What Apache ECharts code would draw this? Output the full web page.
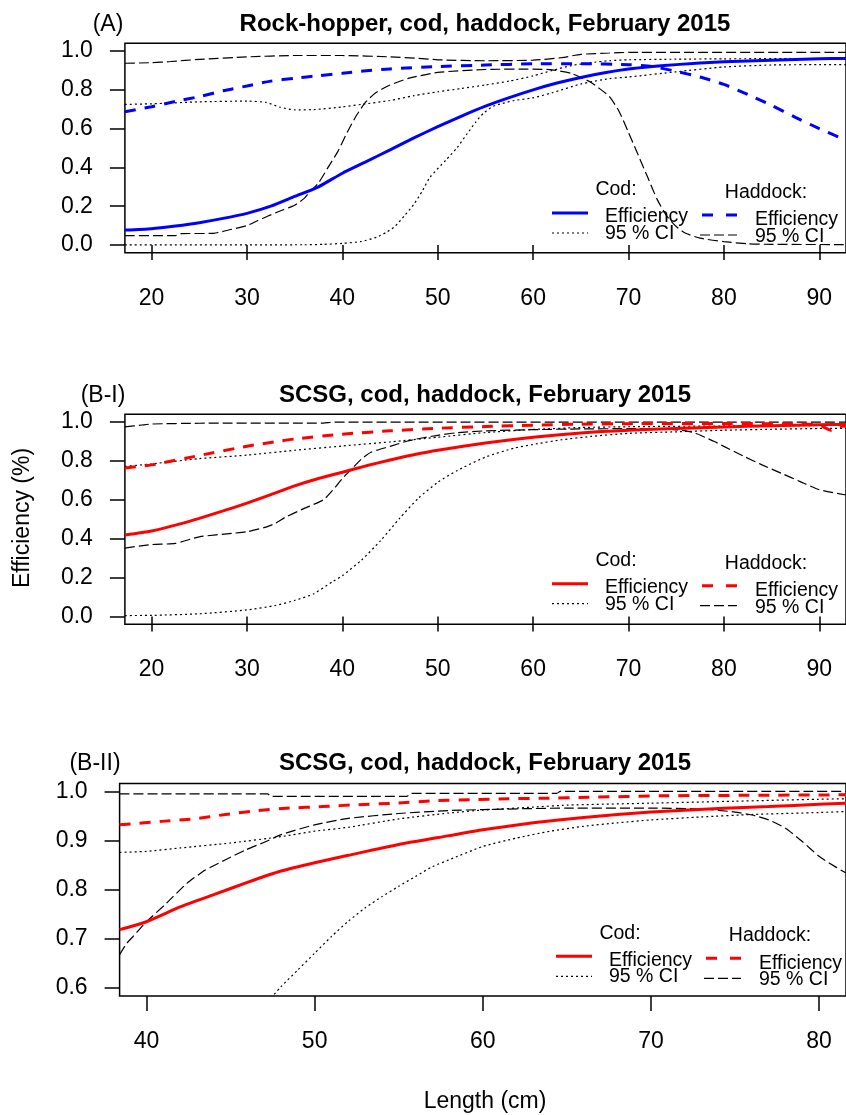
<!DOCTYPE html>
<html><head><meta charset="utf-8">
<script src="https://cdn.jsdelivr.net/npm/echarts@6/dist/echarts.min.js"></script>
<style>html,body{margin:0;padding:0;background:#fff}#c{width:846px;height:1115px}</style>
</head><body><div id="c"></div>
<script>
// ---------- DATA ----------
const titles = ['Rock-hopper, cod, haddock, February 2015', 'SCSG, cod, haddock, February 2015', 'SCSG, cod, haddock, February 2015'];
const panelTags = ['(A)', '(B-I)', '(B-II)'];
const xTicksAB = [20, 30, 40, 50, 60, 70, 80, 90];
const yTicksAB = [0, 0.2, 0.4, 0.6, 0.8, 1.0];
const xTicksC = [40, 50, 60, 70, 80];
const yTicksC = [0.6, 0.7, 0.8, 0.9, 1.0];

// Panel A: Rock-hopper (length cm, efficiency)
const codEffA = [[17.2,0.077],[20,0.084],[22.5,0.098],[25,0.115],[27.5,0.137],[30,0.163],[32.5,0.2],[35,0.25],[37.5,0.3],[40,0.37],[42.5,0.43],[45,0.49],[47.5,0.552],[50,0.61],[52.5,0.665],[55,0.716],[57.5,0.76],[60,0.8],[62.5,0.835],[65,0.864],[67.5,0.888],[70,0.907],[72.5,0.92],[75,0.93],[80,0.945],[85,0.953],[90,0.96],[92.8,0.962]];
const codLoA = [[17.2,0.0],[36,0.001],[38,0.003],[40,0.008],[42,0.018],[43.6,0.04],[44.6,0.065],[45.5,0.095],[46.5,0.15],[47.5,0.21],[48.4,0.28],[49.2,0.35],[50.9,0.44],[52,0.5],[53.1,0.575],[54,0.635],[54.8,0.68],[55.8,0.715],[56.8,0.73],[58,0.745],[59.9,0.758],[62,0.785],[65,0.83],[68,0.858],[70,0.866],[75,0.893],[80,0.918],[85,0.928],[90,0.93],[92.8,0.93]];
const codHiA = [[17.2,0.725],[20,0.728],[25,0.738],[30,0.742],[32,0.735],[33.5,0.71],[35,0.697],[37,0.698],[40,0.712],[42,0.725],[45,0.745],[47.5,0.77],[50,0.79],[52.5,0.807],[55,0.825],[57.5,0.845],[60,0.872],[62,0.9],[64,0.925],[66,0.94],[68,0.95],[70,0.955],[75,0.958],[80,0.96],[92.8,0.962]];
const hadEffA = [[17.2,0.687],[20,0.713],[22.5,0.74],[25,0.765],[27.5,0.795],[30,0.82],[32.5,0.845],[35,0.86],[37.5,0.873],[40,0.885],[42.5,0.898],[45,0.908],[50,0.92],[55,0.928],[60,0.934],[65,0.935],[70,0.93],[72.5,0.92],[75,0.895],[77.5,0.866],[80,0.828],[82.5,0.776],[85,0.72],[87.5,0.658],[90,0.6],[92.8,0.54]];
const hadLoA = [[17.2,0.048],[22.5,0.048],[23,0.058],[26.5,0.06],[28.4,0.081],[30,0.1],[31.1,0.125],[33.2,0.17],[35,0.205],[36,0.24],[36.5,0.27],[37.5,0.32],[38.5,0.4],[39.5,0.48],[40.5,0.58],[41.5,0.67],[42.5,0.74],[43.5,0.785],[45,0.825],[47,0.86],[50,0.89],[55,0.905],[60,0.907],[62,0.903],[64,0.885],[66,0.84],[67,0.805],[68,0.765],[69,0.69],[70,0.58],[71,0.465],[72,0.35],[73,0.235],[74,0.15],[75,0.095],[76,0.06],[77.5,0.035],[80,0.017],[82.5,0.006],[85,0.003],[92.8,0.002]];
const hadHiA = [[17.2,0.937],[20,0.94],[22,0.946],[25,0.957],[30,0.97],[35,0.977],[40,0.977],[45,0.97],[48,0.962],[50,0.955],[55,0.95],[60,0.953],[63,0.966],[65,0.983],[68,0.99],[70,0.993],[92.8,0.993]];

// Panel B-I: SCSG
const codEffB = [[17.2,0.419],[20,0.44],[22.5,0.47],[25,0.505],[27.5,0.543],[30,0.583],[32.5,0.627],[35,0.672],[37.5,0.71],[40,0.742],[42.5,0.775],[45,0.805],[47.5,0.832],[50,0.855],[55,0.892],[60,0.922],[65,0.944],[70,0.958],[75,0.967],[80,0.975],[85,0.981],[90,0.986],[92.8,0.988]];
const codLoB = [[17.2,0.005],[20,0.006],[25,0.014],[30,0.034],[33,0.057],[35,0.083],[37,0.117],[39,0.18],[40,0.21],[42,0.29],[44,0.39],[46,0.505],[48,0.61],[50,0.69],[52,0.75],[55,0.82],[58,0.866],[60,0.885],[63,0.909],[66,0.926],[70,0.942],[75,0.95],[80,0.958],[85,0.963],[90,0.967],[92.8,0.968]];
const codHiB = [[17.2,0.772],[20,0.785],[25,0.812],[30,0.83],[35,0.855],[40,0.877],[45,0.898],[50,0.922],[55,0.946],[60,0.962],[65,0.972],[70,0.976],[80,0.98],[92.8,0.983]];
const hadEffB = [[17.2,0.764],[20,0.78],[25,0.828],[30,0.876],[33.2,0.9],[35,0.913],[40,0.938],[45,0.955],[50,0.968],[55,0.977],[60,0.984],[65,0.989],[70,0.992],[80,0.993],[88,0.99],[90,0.985],[91.2,0.958],[92,0.975],[92.8,0.98]];
const hadLoB = [[17.2,0.352],[20,0.37],[22.5,0.376],[25,0.41],[28.5,0.428],[30,0.436],[32,0.46],[33,0.48],[34,0.51],[36,0.556],[38,0.6],[39,0.65],[40,0.71],[41,0.76],[42,0.81],[43,0.845],[45,0.875],[47,0.905],[50,0.932],[52,0.945],[55,0.955],[60,0.961],[65,0.965],[70,0.966],[74,0.965],[75,0.96],[76,0.955],[77,0.943],[78,0.922],[79,0.9],[80,0.875],[82,0.826],[84,0.78],[86,0.737],[88,0.694],[90,0.652],[92.8,0.625]];
const hadHiB = [[17.2,0.975],[19,0.985],[20,0.99],[25,0.994],[38,0.995],[39,1.0],[92.8,1.0]];

// Panel B-II: SCSG zoomed
const codEffC = [[38.4,0.719],[40,0.735],[42,0.765],[44,0.79],[46,0.815],[48,0.838],[50,0.855],[52,0.87],[55,0.892],[58,0.91],[60,0.922],[63,0.936],[66,0.947],[70,0.958],[74,0.965],[77,0.969],[80,0.974],[81.6,0.976]];
const codLoC = [[47.2,0.572],[48,0.603],[49,0.637],[50,0.671],[51,0.705],[52,0.736],[53,0.763],[54,0.786],[55,0.807],[56,0.827],[57,0.847],[58,0.861],[60,0.888],[62,0.905],[64,0.919],[66,0.929],[68,0.936],[70,0.942],[73,0.948],[76,0.953],[80,0.957],[81.6,0.959]];
const codHiC = [[38.4,0.876],[40,0.878],[42,0.885],[45,0.895],[48,0.908],[50,0.919],[52,0.927],[55,0.944],[58,0.956],[60,0.962],[63,0.968],[65,0.972],[70,0.976],[75,0.98],[80,0.984],[81.6,0.985]];
const hadEffC = [[38.4,0.932],[40.9,0.939],[42.8,0.944],[44.7,0.953],[46.6,0.961],[48.5,0.966],[50.4,0.969],[52.6,0.973],[54.8,0.976],[57.1,0.981],[59.3,0.983],[61.5,0.985],[63.7,0.986],[66.3,0.988],[70.7,0.991],[75.8,0.992],[81.6,0.993]];
const hadLoC = [[38.4,0.668],[38.8,0.69],[39.2,0.705],[40,0.735],[41.2,0.773],[42.4,0.813],[43.5,0.84],[44.7,0.861],[45.9,0.881],[47.1,0.898],[48,0.912],[50,0.932],[52,0.945],[55,0.955],[58,0.961],[60,0.963],[65,0.966],[70,0.966],[73,0.964],[75,0.958],[76,0.952],[77,0.942],[78,0.925],[79,0.898],[80,0.868],[81,0.846],[81.6,0.834]];
const hadHiC = [[38.4,0.995],[47.2,0.995],[47.4,0.99],[55.5,0.99],[55.7,0.996],[64.4,0.996],[64.6,1.0],[81.6,1.0]];

// ---------- LAYOUT / STYLE ----------
const FONT = '"Liberation Sans", Arial, sans-serif';
const BLUE = '#0000ff', RED = '#ff0000', INK = '#000';
const grids = [
  {left: 124.9, top: 43.3, width: 724.7, height: 209.4},
  {left: 124.9, top: 414.3, width: 724.7, height: 210},
  {left: 119.6, top: 783.5, width: 734.9, height: 212.5}
];
const xRanges = [[17.2, 92.8], [17.2, 92.8], [38.4, 81.6]];
const yRanges = [[-0.04, 1.04], [-0.04, 1.04], [0.584, 1.016]];
const xTickSets = [xTicksAB, xTicksAB, xTicksC];
const yTickSets = [yTicksAB, yTicksAB, yTicksC];
const panelData = [
  {color: BLUE, codEff: codEffA, codLo: codLoA, codHi: codHiA, hadEff: hadEffA, hadLo: hadLoA, hadHi: hadHiA},
  {color: RED, codEff: codEffB, codLo: codLoB, codHi: codHiB, hadEff: hadEffB, hadLo: hadLoB, hadHi: hadHiB},
  {color: RED, codEff: codEffC, codLo: codLoC, codHi: codHiC, hadEff: hadEffC, hadLo: hadLoC, hadHi: hadHiC}
];
const DOT = [2, 3], LDASH = [10, 4], EDASH = [11, 9];

const gridOpt = grids.map(g => Object.assign({show: true, borderColor: INK, borderWidth: 1.5, backgroundColor: 'transparent'}, g));
const axisCommon = (ticks, fmt) => ({
  axisLine: {show: false},
  axisTick: {show: true, inside: false, length: 15, lineStyle: {color: INK, width: 1.5}, customValues: ticks},
  axisLabel: {show: true, customValues: ticks, color: INK, fontSize: 23, fontFamily: FONT, margin: 32, formatter: fmt},
  splitLine: {show: false}
});
const xAxes = xRanges.map((r, i) => {
  const a = axisCommon(xTickSets[i], v => String(Math.round(v)));
  a.axisLabel.margin = 34;
  return Object.assign({type: 'value', gridIndex: i, min: r[0], max: r[1]}, a);
});
const yAxes = yRanges.map((r, i) => Object.assign({type: 'value', gridIndex: i, min: r[0], max: r[1]},
  axisCommon(yTickSets[i], v => v.toFixed(1))));

const series = [];
panelData.forEach((p, i) => {
  const mk = (data, color, width, dash, z) => ({
    type: 'line', xAxisIndex: i, yAxisIndex: i, data: data, showSymbol: false, symbol: 'none',
    smooth: 0.2, clip: true, z: z, silent: true,
    lineStyle: {color: color, width: width, type: dash || 'solid'}
  });
  series.push(mk(p.codLo, INK, 1.2, DOT, 2));
  series.push(mk(p.codHi, INK, 1.2, DOT, 2));
  series.push(mk(p.hadLo, INK, 1.2, LDASH, 2));
  series.push(mk(p.hadHi, INK, 1.2, LDASH, 2));
  series.push(mk(p.hadEff, p.color, 3, EDASH, 3));
  series.push(mk(p.codEff, p.color, 3, null, 4));
});

// ---------- TEXT / LEGEND GRAPHICS ----------
function txt(x, y, s, size, opts) {
  opts = opts || {};
  return {type: 'text', x: x, y: y, rotation: opts.rot || 0, silent: true,
    style: {text: s, fill: INK, fontSize: size, fontFamily: FONT, fontWeight: opts.bold ? 'bold' : 'normal',
      align: opts.align || 'center', verticalAlign: 'middle', textAlign: opts.align || 'center', textVerticalAlign: 'middle'}};
}
function seg(x1, y1, x2, y2, color, w, dash) {
  return {type: 'line', silent: true, shape: {x1: x1, y1: y1, x2: x2, y2: y2},
    style: {stroke: color, lineWidth: w, lineDash: dash || null}};
}
const legendAnchors = [[616, 190], [616, 560.7], [620, 933.3]];
const titleY = [24, 395, 763];
const tagX = [108, 103, 95];
const elements = [];
titles.forEach((t, i) => {
  elements.push(txt(485, titleY[i], t, 24, {bold: true}));
  elements.push(txt(tagX[i], titleY[i] + 1, panelTags[i], 23));
});
legendAnchors.forEach((a, i) => {
  const [ax, ay] = a;
  const col = panelData[i].color;
  const LS = 19.5;
  elements.push(txt(ax, ay, 'Cod:', LS));
  elements.push(txt(ax + 150, ay + 2.5, 'Haddock:', LS));
  elements.push(seg(ax - 64, ay + 23, ax - 28, ay + 23, col, 3));
  elements.push(txt(ax - 11, ay + 27, 'Efficiency', LS, {align: 'left'}));
  elements.push(seg(ax - 64, ay + 43, ax - 28, ay + 43, INK, 1.2, DOT));
  elements.push(txt(ax - 11, ay + 43.5, '95 % CI', LS, {align: 'left'}));
  elements.push(seg(ax + 86, ay + 25, ax + 121, ay + 25, col, 3, [11, 13]));
  elements.push(txt(ax + 139, ay + 30, 'Efficiency', LS, {align: 'left'}));
  elements.push(seg(ax + 84, ay + 45, ax + 121, ay + 45, INK, 1.2, LDASH));
  elements.push(txt(ax + 139, ay + 46.5, '95 % CI', LS, {align: 'left'}));
});
elements.push(txt(23, 518, 'Efficiency (%)', 23, {rot: Math.PI / 2}));
elements.push(txt(485, 1102, 'Length (cm)', 23));

const chart = echarts.init(document.getElementById('c'), null, {renderer: 'canvas'});
chart.setOption({
  animation: false,
  backgroundColor: '#fff',
  grid: gridOpt,
  xAxis: xAxes,
  yAxis: yAxes,
  series: series,
  graphic: {elements: elements}
});
</script></body></html>
